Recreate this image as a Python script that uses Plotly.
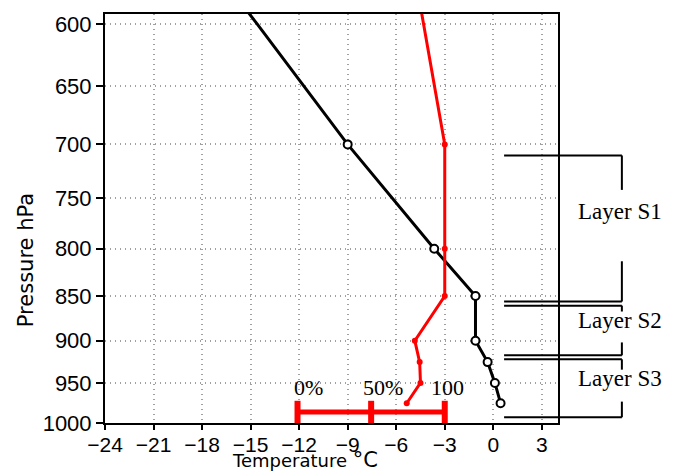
import math
import plotly.graph_objects as go

# ---------------- data ----------------
# observed levels (with markers)
obs_levels = [700, 800, 850, 900, 925, 950, 975]
temp_black = [-9.0, -3.65, -1.1, -1.1, -0.35, 0.1, 0.45]
temp_red = [-3.0, -3.0, -3.0, -4.85, -4.55, -4.5, -5.35]
# upper levels (line only, no markers)
upper_levels = [550, 600]
upper_black = [-17.8, -14.6]
upper_red = [-5.05, -4.3]

# percentage bar
bar_temps = [-12.1, -7.55, -3.0]
bar_labels = ["0%", "50%", "100"]
bar_label_x = [-11.45, -6.8, -2.8]
bar_pressure = 986
bar_label_pressure = 956

x_ticks = [-24, -21, -18, -15, -12, -9, -6, -3, 0, 3]
y_ticks = [600, 650, 700, 750, 800, 850, 900, 950, 1000]

layer_names = ["Layer S1", "Layer S2", "Layer S3"]
layer_top = [710, 860.5, 921.7]
layer_bottom = [856, 917, 992.7]
layer_gap_top = [742, 867, 934]
layer_gap_bottom = [813, 902, 973]
layer_text_p = [763, 877, 944.5]

lg = math.log10
P_BOTTOM, P_TOP = 1000.0, 592.4


def pap(p):
    """pressure -> paper y fraction on the log pressure axis"""
    return (lg(p) - lg(P_BOTTOM)) / (lg(P_TOP) - lg(P_BOTTOM))


fig = go.Figure()

# black curve
fig.add_trace(go.Scatter(
    x=upper_black + temp_black, y=upper_levels + obs_levels,
    mode="lines", line=dict(color="black", width=3), showlegend=False,
    hoverinfo="skip"))
fig.add_trace(go.Scatter(
    x=temp_black, y=obs_levels, mode="markers",
    marker=dict(symbol="circle", size=8, color="white",
                line=dict(color="black", width=2)),
    showlegend=False))

# red curve
fig.add_trace(go.Scatter(
    x=upper_red + temp_red, y=upper_levels + obs_levels,
    mode="lines", line=dict(color="#ff0000", width=3), showlegend=False,
    hoverinfo="skip"))
fig.add_trace(go.Scatter(
    x=temp_red, y=obs_levels, mode="markers",
    marker=dict(symbol="circle", size=6, color="#ff0000"),
    showlegend=False))

# percentage bar
fig.add_trace(go.Scatter(
    x=[bar_temps[0], bar_temps[-1]], y=[bar_pressure, bar_pressure],
    mode="lines", line=dict(color="#ff0000", width=5), showlegend=False))
fig.add_trace(go.Scatter(
    x=bar_temps, y=[bar_pressure] * len(bar_temps), mode="markers",
    marker=dict(symbol="line-ns", size=16,
                line=dict(color="#ff0000", width=6)),
    showlegend=False))

annotations = []
for t, lab in zip(bar_label_x, bar_labels):
    annotations.append(dict(
        x=t, y=lg(bar_label_pressure), xref="x", yref="y", text=lab,
        showarrow=False, xanchor="center", yanchor="middle",
        font=dict(family="Liberation Serif", size=22, color="black")))

# layer brackets
xa0, xa1 = 0.881, 1.141
shapes = []
for top, bot, gt, gb, name, tp in zip(layer_top, layer_bottom, layer_gap_top,
                                      layer_gap_bottom, layer_names, layer_text_p):
    for p in (top, bot):
        shapes.append(dict(type="line", xref="paper", yref="paper",
                           x0=xa0, x1=xa1, y0=pap(p), y1=pap(p),
                           line=dict(color="black", width=2)))
    shapes.append(dict(type="line", xref="paper", yref="paper", x0=xa1, x1=xa1,
                       y0=pap(top), y1=pap(gt), line=dict(color="black", width=2)))
    shapes.append(dict(type="line", xref="paper", yref="paper", x0=xa1, x1=xa1,
                       y0=pap(gb), y1=pap(bot), line=dict(color="black", width=2)))
    annotations.append(dict(
        x=1.039, y=pap(tp), xref="paper", yref="paper", text=name,
        showarrow=False, xanchor="left", yanchor="middle",
        font=dict(family="Liberation Serif", size=23, color="black")))

# axis titles
annotations.append(dict(
    x=0.4425, y=-0.0895, xref="paper", yref="paper",
    text="Temperature <span style='font-size:21px'>°C</span>",
    showarrow=False, xanchor="center", yanchor="middle", borderpad=0,
    font=dict(family="DejaVu Sans", size=18, color="black")))
annotations.append(dict(
    x=-0.174, y=0.3985, xref="paper", yref="paper", text="Pressure hPa",
    textangle=-90, showarrow=False, xanchor="center", yanchor="middle",
    font=dict(family="DejaVu Sans", size=21, color="black")))

fig.update_layout(
    width=676, height=471,
    margin=dict(l=105, r=118, t=14, b=48),
    paper_bgcolor="white", plot_bgcolor="white",
    shapes=shapes, annotations=annotations, showlegend=False,
    font=dict(family="Liberation Sans", size=21, color="black"),
)
fig.update_xaxes(
    range=[-24, 4], tickvals=x_ticks, ticks="outside", ticklen=5,
    tickwidth=1.5, tickcolor="black", showline=True, linecolor="black",
    linewidth=2, mirror=True, showgrid=True, gridcolor="#a0a0a0",
    griddash="1px,4px", gridwidth=1.5, zeroline=False,
    ticklabelstandoff=-3,
    tickfont=dict(family="Liberation Sans", size=21, color="black"))
fig.update_yaxes(
    type="log", range=[lg(P_BOTTOM), lg(P_TOP)], tickvals=y_ticks,
    ticktext=[str(v) for v in y_ticks], ticks="outside", ticklen=7,
    tickwidth=1.5, tickcolor="black", showline=True, linecolor="black",
    linewidth=2, mirror=True, showgrid=True, gridcolor="#a0a0a0",
    griddash="1px,4px", gridwidth=1.5, zeroline=False,
    tickfont=dict(family="Liberation Sans", size=22, color="black"))

fig.write_html("out.html")
